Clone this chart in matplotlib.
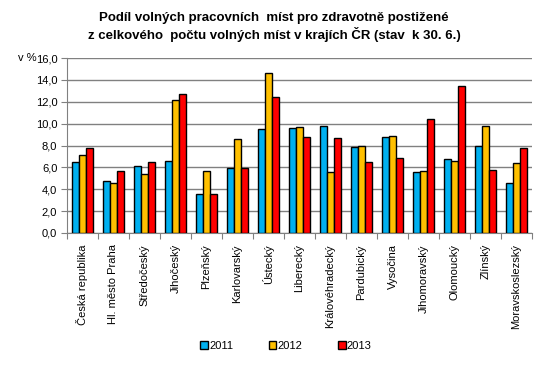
import matplotlib
matplotlib.use("Agg")
import matplotlib.pyplot as plt
import numpy as np

plt.rcParams['font.family'] = ['Liberation Sans', 'DejaVu Sans']

categories = ["Česká republika", "Hl. město Praha", "Středočeský", "Jihočeský", "Plzeňský",
              "Karlovarský", "Ústecký", "Liberecký", "Královéhradecký", "Pardubický",
              "Vysočina", "Jihomoravský", "Olomoucký", "Zlínský", "Moravskoslezský"]
years = ["2011", "2012", "2013"]
v2011 = [6.5, 4.8, 6.1, 6.6, 3.6, 5.9, 9.5, 9.6, 9.8, 7.9, 8.8, 5.6, 6.8, 8.0, 4.6]
v2012 = [7.1, 4.6, 5.4, 12.2, 5.7, 8.6, 14.6, 9.7, 5.6, 8.0, 8.9, 5.7, 6.6, 9.8, 6.4]
v2013 = [7.8, 5.7, 6.5, 12.7, 3.6, 5.9, 12.4, 8.8, 8.7, 6.5, 6.9, 10.4, 13.4, 5.8, 7.8]
colors = ["#00B0F0", "#FFC000", "#FF0000"]

fig = plt.figure(figsize=(5.48, 3.69), dpi=100)
ax = fig.add_axes([67/548, 1-233/369, (532-67)/548, (233-58)/369])

x = np.arange(len(categories))
w = 0.23
for i, (vals, c, lab) in enumerate(zip([v2011, v2012, v2013], colors, years)):
    ax.bar(x + (i-1)*w, vals, width=w, color=c, edgecolor='black', linewidth=1.0, label=lab, zorder=3)

ax.set_xlim(-0.5, len(categories)-0.5)
ax.set_ylim(0, 16)
ax.set_yticks(np.arange(0, 16.1, 2))
ax.set_yticklabels([f"{t:.1f}".replace('.', ',') for t in np.arange(0, 16.1, 2)], fontsize=8)
ax.yaxis.grid(True, color='#808080', linewidth=1.0, zorder=0)
ax.set_axisbelow(True)

ax.set_xticks(np.arange(-0.5, len(categories), 1))
ax.set_xticklabels([])
ax.set_xticks(x, minor=True)
ax.set_xticklabels(categories, minor=True, rotation=90, fontsize=8, va='top', ha='center')
ax.tick_params(axis='x', which='minor', length=0, pad=8)
ax.tick_params(axis='x', which='major', length=4, color='#808080', direction='out')
ax.tick_params(axis='y', length=4, color='#808080', direction='out', pad=3)

for s in ['top', 'right']:
    ax.spines[s].set_visible(False)
for s in ['left', 'bottom']:
    ax.spines[s].set_color('#808080')

fig.text(18/548, 1-58/369, "v %", fontsize=8, ha='left', va='center')
fig.text(274/548, 1-18/369, "Podíl volných pracovních  míst pro zdravotně postižené", fontsize=9.5,
         fontweight='bold', ha='center', va='center')
fig.text(274/548, 1-34/369, "z celkového  počtu volných míst v krajích ČR (stav  k 30. 6.)", fontsize=9.5,
         fontweight='bold', ha='center', va='center')

handles, labels = ax.get_legend_handles_labels()
fig.legend(handles, labels, loc='center', bbox_to_anchor=(286/548, 1-346/369), ncol=3,
           frameon=False, fontsize=8, handlelength=0.7, handleheight=0.7, columnspacing=3.2,
           handletextpad=0.1)

fig.savefig("out.png", dpi=100)
